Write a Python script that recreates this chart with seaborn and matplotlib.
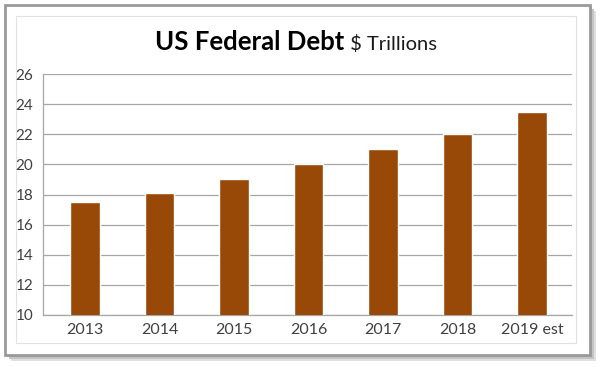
import matplotlib
matplotlib.use("Agg")
import matplotlib.pyplot as plt
import seaborn as sns
import pandas as pd
from matplotlib.patches import Rectangle

years = ["2013", "2014", "2015", "2016", "2017", "2018", "2019 est"]
debt = [17.5, 18.1, 19.0, 20.0, 21.0, 22.0, 23.5]
yticks = [10, 12, 14, 16, 18, 20, 22, 24, 26]

sns.set_theme(style="white")
plt.rcParams['font.family'] = ['Lato', 'DejaVu Sans']

W, H = 600, 367
fig = plt.figure(figsize=(6, 3.67), dpi=100)
fig.patch.set_facecolor("white")

def px(x0, y0, x1, y1):
    return (x0 / W, 1 - y1 / H, (x1 - x0) / W, (y1 - y0) / H)

# shadow + outer frame
for off, col in [(6, "#e0e0e0"), (4, "#c4c4c4"), (2, "#a8a8a8")]:
    x, y, w, h = px(5 + off, 5 + off, 590 + off, 355 + off)
    fig.patches.append(Rectangle((x, y), w, h, transform=fig.transFigure,
                                 facecolor=col, edgecolor="none", zorder=0))
x, y, w, h = px(5, 5, 590, 355)
fig.patches.append(Rectangle((x, y), w, h, transform=fig.transFigure,
                             facecolor="white", edgecolor="#9a9a9a", lw=2, zorder=1))
x, y, w, h = px(16, 16, 576, 343)
fig.patches.append(Rectangle((x, y), w, h, transform=fig.transFigure,
                             facecolor="white", edgecolor="#e2e2e2", lw=0.8, zorder=2))

ax = fig.add_axes(px(43, 74, 572, 315))
ax.set_zorder(3)
df = pd.DataFrame({"year": years, "debt": debt})
sns.barplot(data=df, x="year", y="debt", color="#984807", width=0.4,
            saturation=1, ax=ax, zorder=3)
ax.set_xlim(-0.564, 6.537)
ax.set_ylim(10, 26)
ax.set_yticks(yticks)
ax.set_yticklabels([str(t) for t in yticks])
ax.set_xlabel("")
ax.set_ylabel("")
ax.grid(axis="y", color="#a6a6a6", lw=0.9)
ax.set_axisbelow(True)
for s in ["top", "right"]:
    ax.spines[s].set_visible(False)
ax.spines["left"].set_color("#a6a6a6")
ax.spines["bottom"].set_color("#a6a6a6")
ax.spines["left"].set_linewidth(0.9)
ax.spines["bottom"].set_linewidth(0.9)
ax.tick_params(axis="y", labelsize=11, colors="#404040", pad=7, length=0)
ax.tick_params(axis="x", labelsize=11.5, colors="#404040", pad=6, length=0)
ax.set_facecolor("white")

# title in two parts
fig.canvas.draw()
r = fig.canvas.get_renderer()
t1 = fig.text(0, 1 - 42 / H, "US Federal Debt", fontsize=18.5, fontweight="bold",
              va="center", ha="left", color="black")
t2 = fig.text(0, 1 - 44 / H, " $ Trillions", fontsize=14.5, va="center", ha="left",
              color="#1a1a1a")
w1 = t1.get_window_extent(r).width / W
w2 = t2.get_window_extent(r).width / W
start = 296 / W - (w1 + w2) / 2
t1.set_x(start)
t2.set_x(start + w1)

fig.savefig("out.png", dpi=100, facecolor="white")
